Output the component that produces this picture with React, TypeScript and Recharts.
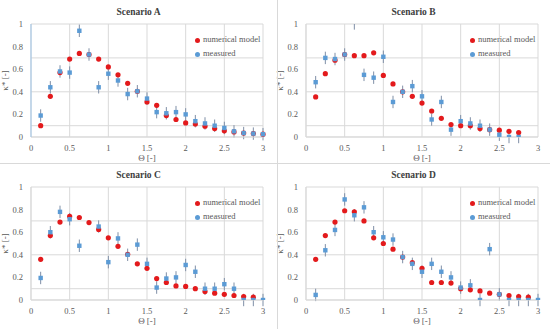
import React from 'react'
import { ScatterChart, Scatter, XAxis, YAxis, CartesianGrid, ErrorBar } from 'recharts'

// theta steps shared by all scenarios
const theta = [0.125, 0.25, 0.375, 0.5, 0.625, 0.75, 0.875, 1, 1.125, 1.25, 1.375, 1.5,
  1.625, 1.75, 1.875, 2, 2.125, 2.25, 2.375, 2.5, 2.625, 2.75, 2.875, 3]

const modelA = [0.1, 0.36, 0.57, 0.69, 0.74, 0.73, 0.69, 0.62, 0.55, 0.475, 0.405, 0.31,
  0.28, 0.19, 0.155, 0.125, 0.115, 0.095, 0.075, 0.055, 0.045, 0.035, 0.03, 0.025]
const measA = [0.19, 0.44, 0.58, 0.57, 0.94, 0.73, 0.44, 0.56, 0.5, 0.38, 0.405, 0.34,
  0.22, 0.21, 0.22, 0.2, 0.14, 0.12, 0.1, 0.08, 0.05, 0.035, 0.03, 0.025]

const modelB = [0.355, 0.56, 0.68, 0.73, 0.72, 0.72, 0.745, 0.545, 0.47, 0.4, 0.36, 0.3,
  0.23, 0.165, 0.11, 0.1, 0.1, 0.075, 0.065, 0.06, 0.05, 0.04, null, null]
const measB = [0.485, 0.7, 0.69, 0.73, 1.05, 0.55, 0.525, 0.71, 0.31, 0.4, 0.45, 0.36,
  0.155, 0.31, 0.065, 0.14, 0.12, 0.1, 0.065, 0.02, 0, 0, null, null]
// B has one off-scale point with a wider error
const errB = [0.055, 0.055, 0.055, 0.055, 0.1, 0.055, 0.055, 0.055, 0.055, 0.055, 0.055, 0.055,
  0.055, 0.055, 0.055, 0.055, 0.055, 0.055, 0.055, 0.055, 0.055, 0.055, 0.055, 0.055]

const modelC = [0.36, 0.57, 0.69, 0.74, 0.73, 0.685, 0.625, 0.55, 0.475, 0.405, 0.32, 0.28,
  0.19, 0.155, 0.125, 0.12, 0.1, 0.075, 0.06, 0.05, 0.04, 0.03, 0.025, null]
const measC = [0.195, 0.6, 0.78, 0.715, 0.48, null, 0.65, 0.335, 0.545, 0.4, 0.49, 0.32,
  0.11, 0.19, 0.2, 0.31, 0.25, 0.1, 0.1, 0.14, 0.1, 0, 0, 0]

const modelD = [0.36, 0.57, 0.69, 0.79, 0.78, 0.7, 0.55, 0.5, 0.45, 0.38, 0.33, 0.28,
  0.155, 0.155, 0.15, 0.1, 0.09, 0.08, 0.06, 0.05, 0.04, 0.03, 0.025, null]
const measD = [0.045, 0.44, 0.62, 0.89, 0.75, 0.82, 0.6, 0.555, 0.535, 0.38, 0.32, 0.25,
  0.32, 0.25, 0.2, 0.11, 0.13, 0, 0.45, 0.05, 0, 0, 0, 0]

const ERR = 0.055
const Y_MAX = 1

const xTicks = [0, 0.5, 1, 1.5, 2, 2.5, 3]
const yTicks = [0, 0.1, 0.2, 0.3, 0.4, 0.5, 0.6, 0.7, 0.8, 0.9, 1]

const RED = '#e31a1c'
const BLUE = '#5b9bd5'
const GRID = '#d9d9d9'
const TEXT = '#595959'
const FONT = '"Liberation Serif", "DejaVu Serif", serif'

// error bars are cut at the top of the axis, like the plot clip does for the dots
const toPoints = (vals: (number | null)[], errs?: number[]) =>
  theta
    .map((x, i) => {
      const y = vals[i]
      if (y === null) return null
      const e = errs ? errs[i] : ERR
      return { x, y, err: [e, Math.min(y + e, Y_MAX) - y] }
    })
    .filter(p => p !== null)

const RedDot = (props: any) => <circle cx={props.cx} cy={props.cy} r={2.6} fill={RED} />
const BlueDot = (props: any) => (
  <rect x={props.cx - 2.2} y={props.cy - 2.2} width={4.4} height={4.4} fill={BLUE} />
)

interface PanelProps {
  title: string
  model: (number | null)[]
  meas: (number | null)[]
  errs?: number[]
  left: number
  top: number
  axisColor?: string
}

function Panel({ title, model, meas, errs, left, top, axisColor = GRID }: PanelProps) {
  const dot = (c: string) => (
    <span style={{ display: 'inline-block', width: 5, height: 5, borderRadius: 3, background: c, marginRight: 3, verticalAlign: 'middle' }} />
  )
  return (
    <div style={{ position: 'absolute', left, top, width: 275, height: 165 }}>
      <div style={{ position: 'absolute', left: 0, width: 277, top: 7, textAlign: 'center', fontFamily: FONT, fontSize: 9.5, fontWeight: 'bold', color: '#404040' }}>
        {title}
      </div>
      <ScatterChart width={273} height={164} margin={{ top: 24, right: 10, left: 0, bottom: 0 }} style={{ position: 'absolute', left: 0, top: 0 }}>
        <CartesianGrid stroke={GRID} />
        <XAxis
          type="number"
          dataKey="x"
          domain={[0, 3]}
          ticks={xTicks}
          height={27}
          tickLine={false}
          axisLine={{ stroke: GRID }}
          tick={{ fontSize: 8.5, fill: TEXT, fontFamily: FONT }}
          label={{ value: 'Θ [-]', position: 'insideBottom', offset: 3, fontSize: 9, fill: TEXT, fontFamily: FONT }}
        />
        <YAxis
          type="number"
          dataKey="y"
          domain={[0, Y_MAX]}
          ticks={yTicks}
          allowDataOverflow
          width={31}
          tickLine={false}
          axisLine={{ stroke: axisColor }}
          tick={{ fontSize: 8.5, fill: TEXT, fontFamily: FONT }}
          label={{ value: 'κ* [-]', angle: -90, position: 'insideLeft', offset: 5, fontSize: 9, fill: TEXT, fontFamily: FONT, style: { textAnchor: 'middle' } }}
        />
        <Scatter data={toPoints(model)} shape={RedDot} isAnimationActive={false} />
        <Scatter data={toPoints(meas, errs)} shape={BlueDot} isAnimationActive={false}>
          <ErrorBar dataKey="err" direction="y" width={0} stroke="#7f8fa6" strokeWidth={1} />
        </Scatter>
      </ScatterChart>
      <div style={{ position: 'absolute', left: 195, top: 32, fontFamily: FONT, fontSize: 8.5, color: TEXT, lineHeight: '14px', whiteSpace: 'nowrap' }}>
        <div>{dot(RED)}numerical model</div>
        <div>{dot(BLUE)}measured</div>
      </div>
    </div>
  )
}

export default function App() {
  return (
    <div style={{ position: 'absolute', left: 0, top: 0, width: 550, height: 329, background: '#fff', overflow: 'hidden' }}>
      <Panel title="Scenario A" model={modelA} meas={measA} left={0} top={0} axisColor="#9dc3e6" />
      <Panel title="Scenario B" model={modelB} meas={measB} errs={errB} left={275} top={0} />
      <Panel title="Scenario C" model={modelC} meas={measC} left={0} top={163} />
      <Panel title="Scenario D" model={modelD} meas={measD} left={275} top={163} />
      <div style={{ position: 'absolute', left: 277, top: 0, width: 1, height: 329, background: GRID }} />
      <div style={{ position: 'absolute', left: 0, top: 163, width: 550, height: 1, background: GRID }} />
    </div>
  )
}
